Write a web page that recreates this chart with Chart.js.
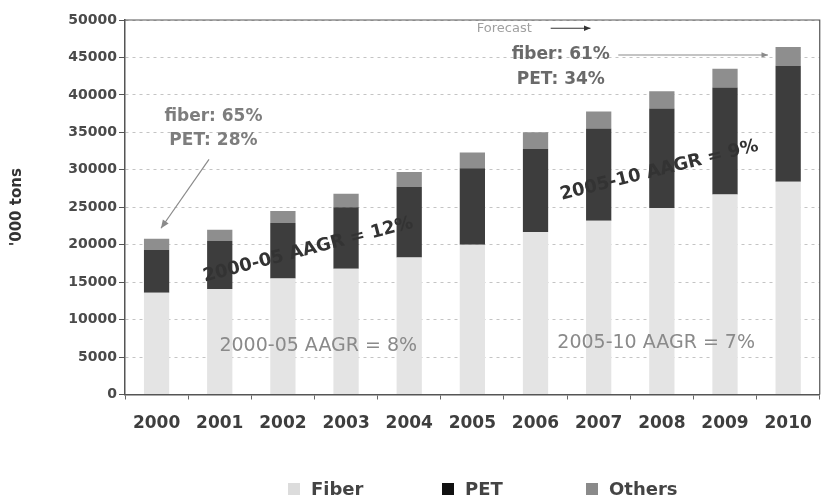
<!DOCTYPE html>
<html>
<head>
<meta charset="utf-8">
<script src="https://cdn.jsdelivr.net/npm/chart.js@4.4.1/dist/chart.umd.min.js"></script>
<style>
  html, body { margin: 0; padding: 0; background: #fff; }
  #wrap { width: 826px; height: 496px; position: relative; }
</style>
</head>
<body>
<div id="wrap"><canvas id="c" width="826" height="496"></canvas></div>
<script>
const years = ['2000','2001','2002','2003','2004','2005','2006','2007','2008','2009','2010'];
const fiber = [13600, 14100, 15500, 16800, 18300, 20000, 21700, 23200, 24900, 26700, 28400];
const pet = [5700, 6400, 7400, 8200, 9400, 10200, 11100, 12300, 13300, 14300, 15500];
const others = [1500, 1500, 1600, 1800, 2000, 2100, 2200, 2300, 2300, 2500, 2500];
const yTicks = [0, 5000, 10000, 15000, 20000, 25000, 30000, 35000, 40000, 45000, 50000];
const seriesNames = ['Fiber', 'PET', 'Others'];

const FONT = '"DejaVu Sans", "Liberation Sans", Arial, sans-serif';

const annotations = {
  id: 'annotations',
  afterDatasetsDraw(chart) {
    const ctx = chart.ctx;
    const xs = chart.scales.x, ys = chart.scales.y;
    const X = i => xs.getPixelForValue(i);
    const Y = v => ys.getPixelForValue(v);
    const arrow = (x1, y1, x2, y2, color, head) => {
      ctx.save();
      ctx.strokeStyle = color; ctx.fillStyle = color; ctx.lineWidth = 1.2;
      ctx.beginPath(); ctx.moveTo(x1, y1); ctx.lineTo(x2, y2); ctx.stroke();
      const a = Math.atan2(y2 - y1, x2 - x1);
      ctx.beginPath();
      ctx.moveTo(x2, y2);
      ctx.lineTo(x2 - head * Math.cos(a - 0.4), y2 - head * Math.sin(a - 0.4));
      ctx.lineTo(x2 - head * Math.cos(a + 0.4), y2 - head * Math.sin(a + 0.4));
      ctx.closePath(); ctx.fill();
      ctx.restore();
    };
    const text = (s, x, y, font, color, align, rot) => {
      ctx.save();
      ctx.translate(x, y);
      if (rot) ctx.rotate(rot * Math.PI / 180);
      ctx.font = font; ctx.fillStyle = color;
      ctx.textAlign = align || 'center'; ctx.textBaseline = 'middle';
      ctx.fillText(s, 0, 0);
      ctx.restore();
    };
    // 2000 callout
    text('fiber: 65%', X(0.9), Y(37050), 'bold 17px ' + FONT, '#7d7d7d');
    text('PET: 28%', X(0.9), Y(33900), 'bold 17px ' + FONT, '#7d7d7d');
    arrow(X(0.83), Y(31400), X(0.07), Y(22200), '#8a8a8a', 9);
    // forecast
    text('Forecast', X(5.07), Y(48800), '13px ' + FONT, '#a0a0a0', 'left');
    arrow(X(6.24), Y(48900), X(6.87), Y(48900), '#333', 7);
    text('fiber: 61%', X(6.4), Y(45330), 'bold 17px ' + FONT, '#6a6a6a');
    text('PET: 34%', X(6.4), Y(41990), 'bold 17px ' + FONT, '#6a6a6a');
    arrow(X(7.31), Y(45330), X(9.68), Y(45330), '#8a8a8a', 7);
    // growth rates
    text('2000-05 AAGR = 12%', X(2.4), Y(19300), 'bold 18px ' + FONT, '#333', 'center', -14.5);
    text('2005-10 AAGR = 9%', X(7.96), Y(29900), 'bold 18px ' + FONT, '#333', 'center', -14);
    text('2000-05 AAGR = 8%', X(2.56), Y(6480), '19px ' + FONT, '#8a8a8a');
    text('2005-10 AAGR = 7%', X(7.91), Y(6880), '19px ' + FONT, '#8a8a8a');
  }
};

const frame = {
  id: 'frame',
  afterDraw(chart) {
    const ctx = chart.ctx, a = chart.chartArea;
    ctx.save();
    ctx.strokeStyle = '#555'; ctx.lineWidth = 1.2;
    ctx.beginPath();
    ctx.moveTo(a.left, a.top); ctx.lineTo(a.right, a.top); ctx.lineTo(a.right, a.bottom);
    ctx.stroke();
    ctx.restore();
  }
};

const legendPlugin = {
  id: 'customLegend',
  afterDraw(chart) {
    const ctx = chart.ctx;
    const boxX = [288, 442, 586];
    const base = 495;
    ctx.save();
    ctx.font = 'bold 18px ' + FONT;
    ctx.textBaseline = 'alphabetic';
    ctx.textAlign = 'left';
    chart.data.datasets.forEach((ds, i) => {
      ctx.fillStyle = ds.legendColor;
      ctx.fillRect(boxX[i], base - 12, 12, 12);
      ctx.fillStyle = '#444';
      ctx.fillText(ds.label, boxX[i] + 23, base);
    });
    ctx.restore();
  }
};

new Chart(document.getElementById('c'), {
  type: 'bar',
  data: {
    labels: years,
    datasets: [
      { label: seriesNames[0], data: fiber, backgroundColor: '#e4e4e4', legendColor: '#dcdcdc' },
      { label: seriesNames[1], data: pet, backgroundColor: '#3d3d3d', legendColor: '#111' },
      { label: seriesNames[2], data: others, backgroundColor: '#8e8e8e', legendColor: '#8a8a8a' }
    ]
  },
  options: {
    responsive: false,
    animation: false,
    devicePixelRatio: 1,
    layout: { padding: { top: 20, right: 4, left: 0, bottom: 0 } },
    datasets: { bar: { barPercentage: 1, categoryPercentage: 0.4 } },
    plugins: { legend: { display: false }, tooltip: { enabled: false } },
    scales: {
      x: {
        stacked: true,
        afterFit(s) { s.height = 101.5; },
        grid: { display: true, drawOnChartArea: false, drawTicks: true, tickLength: 5, tickColor: '#666', offset: true },
        border: { display: true, color: '#555', width: 1.5 },
        ticks: { color: '#3e3e3e', font: { family: FONT, size: 17, weight: 'bold' }, padding: 14, maxRotation: 0 }
      },
      y: {
        stacked: true,
        min: 0, max: 50000,
        afterFit(s) { s.width = 125; },
        afterBuildTicks(s) { s.ticks = yTicks.map(v => ({ value: v })); },
        grid: { color: '#c4c4c4', lineWidth: 1, drawTicks: true, tickLength: 6, tickColor: '#555', tickBorderDash: [] },
        border: { display: true, color: '#555', width: 1.5, dash: [3, 4] },
        ticks: { color: '#4a4a4a', font: { family: FONT, size: 14, weight: 'bold' }, padding: 2, callback: v => String(v) },
        title: { display: true, text: "'000 tons", color: '#333', font: { family: FONT, size: 15, weight: 'bold' }, padding: { top: 8, bottom: 0 } }
      }
    }
  },
  plugins: [annotations, frame, legendPlugin]
});
</script>
</body>
</html>
